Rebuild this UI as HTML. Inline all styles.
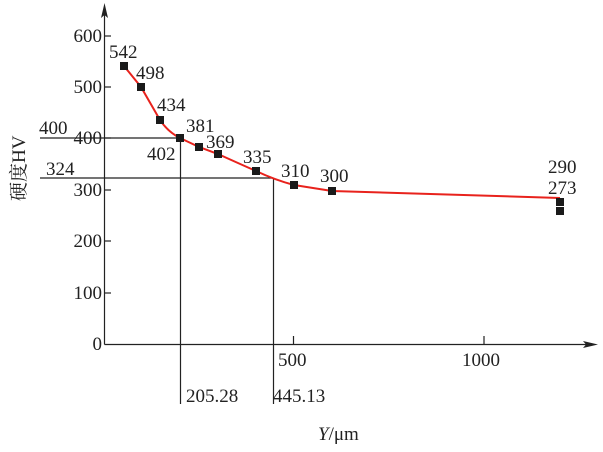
<!DOCTYPE html>
<html><head><meta charset="utf-8"><style>
html,body{margin:0;padding:0;background:#fff;}
svg{display:block;font-family:"Liberation Serif","Noto Serif CJK SC",serif;}
</style></head><body>
<svg width="603" height="452" viewBox="0 0 603 452" xmlns="http://www.w3.org/2000/svg">
<g stroke="#222" stroke-width="1.2" fill="none">
<line x1="104.5" y1="8" x2="104.5" y2="344.5"/>
<line x1="104.5" y1="344.5" x2="590" y2="344.5"/>
<line x1="104.5" y1="36" x2="111" y2="36"/>
<line x1="104.5" y1="87" x2="111" y2="87"/>
<line x1="104.5" y1="138" x2="111" y2="138"/>
<line x1="104.5" y1="190" x2="111" y2="190"/>
<line x1="104.5" y1="241" x2="111" y2="241"/>
<line x1="104.5" y1="293" x2="111" y2="293"/>
<line x1="293.5" y1="336" x2="293.5" y2="344.5"/>
<line x1="484" y1="336" x2="484" y2="344.5"/>
<line x1="40" y1="138" x2="180" y2="138"/>
<line x1="40" y1="178" x2="273" y2="178"/>
<line x1="180.5" y1="138" x2="180.5" y2="404"/>
<line x1="273.5" y1="178" x2="273.5" y2="404"/>
</g>
<polygon points="104.5,3 101,18 104.5,15 108,18" fill="#222"/>
<polygon points="598,344.5 583,341 586,344.5 583,348" fill="#222"/>
<path d="M124,66 L141,87 L160,120 Q168,132 180,138 L199,147 L218,154 Q240,164 256,171 Q275,180 294,185 L332,191 L560,198" stroke="#e8221c" stroke-width="2" fill="none"/>
<g fill="#1a1a1a">
<rect x="120" y="62" width="8" height="8"/>
<rect x="137" y="83" width="8" height="8"/>
<rect x="156" y="116" width="8" height="8"/>
<rect x="176" y="134" width="8" height="8"/>
<rect x="195" y="143" width="8" height="8"/>
<rect x="214" y="150" width="8" height="8"/>
<rect x="252" y="167" width="8" height="8"/>
<rect x="290" y="181" width="8" height="8"/>
<rect x="328" y="187" width="8" height="8"/>
<rect x="556" y="198" width="8" height="8"/>
<rect x="556" y="207" width="8" height="8"/>
</g>
<g font-size="19" fill="#222">
<g text-anchor="end">
<text x="102" y="42">600</text>
<text x="102" y="93">500</text>
<text x="102" y="144">400</text>
<text x="102" y="196">300</text>
<text x="102" y="247">200</text>
<text x="102" y="299">100</text>
<text x="102" y="350">0</text>
</g>
<text x="39" y="134">400</text>
<text x="46" y="175">324</text>
<text x="109" y="58">542</text>
<text x="136" y="79">498</text>
<text x="157" y="111">434</text>
<text x="147" y="160">402</text>
<text x="186" y="132">381</text>
<text x="206" y="148">369</text>
<text x="243" y="163">335</text>
<text x="281" y="177">310</text>
<text x="320" y="182">300</text>
<text x="548" y="173">290</text>
<text x="548" y="194">273</text>
<text x="278" y="366">500</text>
<text x="462" y="366">1000</text>
<text x="186" y="402">205.28</text>
<text x="273" y="402">445.13</text>
<text x="318" y="440"><tspan font-style="italic">Y</tspan>/μm</text>
<text transform="translate(25,201) rotate(-90)" text-anchor="start" font-family="'Noto Serif CJK SC','Liberation Serif',serif">硬度<tspan font-family="'Liberation Serif',serif">HV</tspan></text>
</g>
</svg>
</body></html>
